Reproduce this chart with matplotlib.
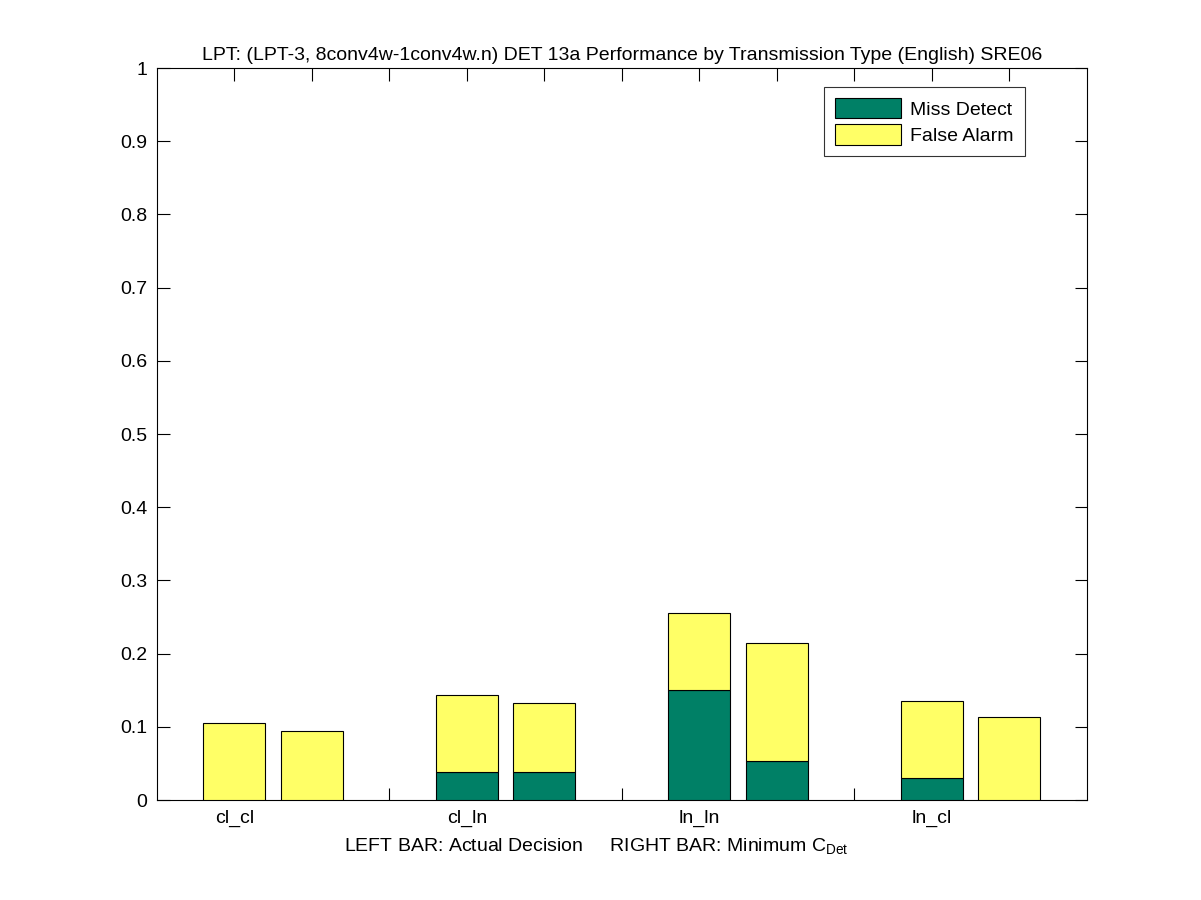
import numpy as np
import matplotlib
matplotlib.use("Agg")
import matplotlib.pyplot as plt

# transmission types, left bar = actual decision, right bar = minimum CDet
categories = ["cl_cl", "cl_ln", "ln_ln", "ln_cl"]
miss_actual = [0.0, 0.038, 0.150, 0.030]
fa_actual = [0.106, 0.106, 0.105, 0.105]
miss_min = [0.0, 0.038, 0.053, 0.0]
fa_min = [0.094, 0.094, 0.161, 0.113]

green = "#008066"
yellow = "#ffff66"

plt.rcParams['font.family'] = ['Liberation Sans', 'DejaVu Sans']
fs = 14

fig = plt.figure(figsize=(12.01, 9), dpi=100)
ax = fig.add_axes([0.1307, 0.111, 0.7743, 0.8134])

# bars at 1,2  4,5  7,8  10,11
x_left = np.arange(len(categories)) * 3 + 1
x_right = x_left + 1
w = 0.8

ax.bar(x_left, miss_actual, w, color=green, edgecolor="black", linewidth=0.8, label="Miss Detect", zorder=3)
ax.bar(x_left, fa_actual, w, bottom=miss_actual, color=yellow, edgecolor="black", linewidth=0.8, label="False Alarm", zorder=3)
ax.bar(x_right, miss_min, w, color=green, edgecolor="black", linewidth=0.8, zorder=3)
ax.bar(x_right, fa_min, w, bottom=miss_min, color=yellow, edgecolor="black", linewidth=0.8, zorder=3)

ax.set_xlim(0, 12)
ax.set_ylim(0, 1)
ax.set_yticks(np.arange(0, 1.01, 0.1))
ax.set_yticklabels(["0"] + ["%.1f" % v for v in np.arange(0.1, 0.95, 0.1)] + ["1"])
ticks = np.arange(1, 12)
ax.set_xticks(ticks)
labels = ["" for t in ticks]
for i, c in enumerate(categories):
    labels[x_left[i] - 1] = c
ax.set_xticklabels(labels)
ax.tick_params(direction="in", length=9, width=0.8, top=True, right=True, labelsize=fs, pad=7)
for s in ax.spines.values():
    s.set_linewidth(0.8)

ax.set_title("LPT: (LPT-3, 8conv4w-1conv4w.n) DET 13a Performance by Transmission Type (English) SRE06",
             fontsize=fs, pad=6)
ax.set_xlabel("LEFT BAR: Actual Decision     RIGHT BAR: Minimum C$_{\\mathregular{Det}}$", fontsize=fs)
ax.xaxis.set_label_coords(0.472, -0.05)

leg = ax.legend(loc="upper right", bbox_to_anchor=(0.933, 0.974), fontsize=fs, frameon=True, fancybox=False,
                edgecolor="black", handlelength=3.4, handleheight=1.25, borderpad=0.55, labelspacing=0.3,
                handletextpad=0.5, borderaxespad=0)
leg.get_frame().set_linewidth(0.8)

fig.savefig("out.png", dpi=100)
